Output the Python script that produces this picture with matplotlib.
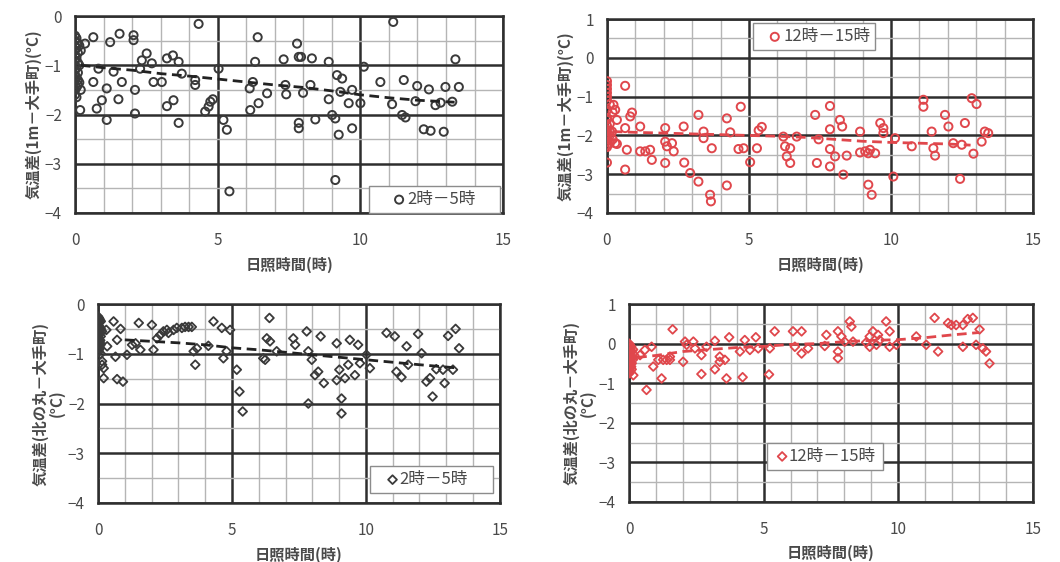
import matplotlib
matplotlib.use("Agg")
import matplotlib.pyplot as plt
from matplotlib.ticker import MultipleLocator

plt.rcParams['font.family'] = ['Noto Sans CJK JP', 'DejaVu Sans']

# ---- data ----
# top-left: 2時-5時, 1m - 大手町
a_x = [0.0, 0.0, 0.0, 0.0, 0.0, 0.0, 0.0, 0.0, 0.0, 0.0, 0.0, 0.0, 0.05, 0.05, 0.05, 0.05, 0.05, 0.05, 0.05,
       0.1, 0.1, 0.1, 0.1, 0.1, 0.1, 0.15, 0.15, 0.15, 0.2, 0.2,
       0.18, 0.35, 0.64, 0.64, 0.76, 0.82, 0.94, 1.11, 1.11, 1.23, 1.35, 1.52, 1.56, 1.64,
       2.05, 2.05, 2.1, 2.1, 2.28, 2.34, 2.51, 2.69, 2.75, 3.04, 3.22, 3.22, 3.43, 3.45,
       3.63, 3.63, 3.74, 4.21, 4.21, 4.33, 4.56, 4.68, 4.74, 4.83, 5.03, 5.2, 5.32, 5.41,
       6.12, 6.14, 6.23, 6.31, 6.43, 6.4, 6.73, 7.31, 7.37, 7.4, 7.78, 7.84, 7.84, 7.84,
       7.92, 7.99, 8.25, 8.3, 8.42, 8.89, 8.89, 9.01, 9.12, 9.12, 9.18, 9.24, 9.36, 9.3,
       9.59, 9.71, 9.71, 10.0, 10.12, 10.7, 11.11, 11.15, 11.52, 11.46, 11.58, 11.93, 11.99,
       12.22, 12.4, 12.46, 12.63, 12.81, 12.92, 12.98, 13.22, 13.33, 13.45]
a_y = [-0.4, -0.5, -0.6, -0.7, -0.8, -0.9, -1.0, -1.1, -1.2, -1.3, -1.5, -1.6,
       -0.45, -0.65, -0.85, -1.05, -1.25, -1.45, -1.65,
       -0.55, -0.75, -0.95, -1.15, -1.3, -1.4, -0.6, -1.0, -1.35, -0.7, -1.5,
       -1.91, -0.56, -0.43, -1.34, -1.88, -1.07, -1.71, -1.47, -2.11, -0.53, -1.13, -1.69, -0.36, -1.34,
       -0.39, -0.49, -1.5, -1.98, -1.07, -0.9, -0.76, -0.96, -1.34, -1.34, -0.86, -1.83, -0.8, -1.71,
       -0.93, -2.17, -1.17, -1.3, -1.4, -0.16, -1.94, -1.84, -1.74, -1.69, -1.07, -2.11, -2.31, -3.56,
       -1.47, -1.91, -1.34, -0.93, -1.77, -0.43, -1.57, -0.88, -1.4, -1.59, -0.56, -0.83, -2.17, -2.28,
       -0.83, -1.56, -1.4, -0.86, -2.1, -0.93, -1.69, -2.01, -2.08, -3.33, -1.2, -2.41, -1.27, -1.54,
       -1.77, -1.5, -2.28, -1.77, -1.03, -1.34, -1.79, -0.12, -1.3, -2.01, -2.06, -1.73, -1.42,
       -2.3, -1.49, -2.33, -1.81, -1.76, -2.35, -1.44, -1.74, -0.88, -1.44]
a_trend_x = [0.2, 1, 2, 3, 4, 5, 6, 7, 8, 9, 10, 11, 12, 13.3]
a_trend_y = [-1.0, -1.05, -1.1, -1.17, -1.22, -1.28, -1.34, -1.4, -1.45, -1.52, -1.6, -1.66, -1.71, -1.75]

# top-right: 12時-15時, 1m - 大手町
b_x = [0.0, 0.0, 0.0, 0.0, 0.0, 0.0, 0.0, 0.0, 0.0, 0.0, 0.0, 0.0, 0.0, 0.0, 0.0, 0.0, 0.0, 0.0,
       0.1, 0.1, 0.1, 0.1, 0.1, 0.2, 0.2,
       0.64, 0.23, 0.29, 0.35, 0.18, 0.29, 0.35, 0.64, 0.7, 0.64, 0.82, 0.88, 1.17, 1.17,
       1.35, 1.52, 1.58, 2.05, 2.05, 2.05, 2.11, 2.29, 2.35, 2.7, 2.72, 2.93, 3.22, 3.22,
       3.4, 3.4, 3.69, 3.63, 3.66, 4.22, 4.22, 4.34, 4.63, 4.71, 4.81, 5.04, 5.28, 5.34,
       5.45, 6.21, 6.27, 6.33, 6.45, 6.45, 6.68, 7.33, 7.39, 7.45, 7.85, 7.85, 7.85, 7.85,
       8.2, 8.28, 8.03, 8.32, 8.44, 8.91, 8.91, 9.09, 9.2, 9.26, 9.2, 9.32, 9.44, 9.62,
       9.73, 9.73, 10.08, 10.14, 10.73, 11.14, 11.14, 11.43, 11.49, 11.55, 11.9, 12.02,
       12.19, 12.43, 12.49, 12.6, 12.84, 12.9, 13.01, 13.19, 13.3, 13.42]
b_y = [-0.6, -0.7, -0.8, -0.9, -1.0, -1.1, -1.35, -1.55, -1.6, -1.75, -1.85, -1.95, -2.05, -2.1, -2.15, -2.25, -2.3, -2.7,
       -1.2, -1.7, -1.9, -2.0, -2.2, -1.4, -2.1,
       -0.72, -1.21, -1.34, -1.6, -1.9, -2.2, -2.22, -1.81, -2.37, -2.88, -1.51, -1.41, -1.77, -2.41,
       -2.41, -2.37, -2.63, -2.71, -1.81, -2.16, -2.28, -2.2, -2.41, -1.77, -2.7, -2.97, -1.47, -3.19,
       -1.9, -2.07, -2.33, -3.53, -3.7, -1.56, -3.29, -1.92, -2.35, -1.26, -2.33, -2.69, -2.33, -1.87,
       -1.78, -2.03, -2.28, -2.54, -2.33, -2.71, -2.03, -1.47, -2.71, -2.1, -1.24, -1.84, -2.35, -2.8,
       -1.6, -1.77, -2.54, -3.01, -2.52, -1.9, -2.44, -2.41, -2.46, -2.37, -3.27, -3.53, -2.46, -1.68,
       -1.81, -1.94, -3.06, -2.07, -2.28, -1.08, -1.26, -1.9, -2.33, -2.52, -1.47, -1.77,
       -2.2, -3.12, -2.24, -1.68, -1.04, -2.47, -1.19, -2.16, -1.9, -1.94]
b_trend_x = [0.2, 1, 2, 3, 4, 5, 6, 7, 8, 9, 10, 11, 12, 12.8]
b_trend_y = [-1.9, -1.92, -1.94, -1.96, -1.98, -2.0, -2.02, -2.05, -2.1, -2.15, -2.18, -2.2, -2.22, -2.25]

# bottom-left: 2時-5時, 北の丸 - 大手町
c_x = [0.0, 0.0, 0.0, 0.0, 0.0, 0.0, 0.0, 0.0, 0.0, 0.0, 0.0, 0.0, 0.0,
       0.03, 0.03, 0.03, 0.03, 0.03, 0.03, 0.03, 0.03,
       0.05, 0.05, 0.05, 0.05, 0.05, 0.08, 0.08, 0.08, 0.08,
       0.1, 0.1, 0.1, 0.1, 0.1, 0.15, 0.15,
       0.15, 0.21, 0.21, 0.34, 0.31, 0.58, 0.65, 0.71, 0.71, 0.84, 0.93, 1.08, 1.27, 1.4,
       1.52, 1.58, 2.01, 2.07, 2.2, 2.32, 2.44, 2.57, 2.63, 2.82, 2.94, 3.13, 3.25, 3.38,
       3.5, 3.57, 3.63, 3.69, 4.12, 4.31, 4.62, 4.68, 4.93, 4.8, 5.18, 5.28, 5.4, 6.17,
       6.24, 6.3, 6.42, 6.4, 6.67, 7.29, 7.36, 7.79, 7.85, 7.85, 7.98, 8.1, 8.22, 8.31,
       8.43, 8.91, 8.91, 9.01, 9.09, 9.09, 9.22, 9.34, 9.4, 9.59, 9.71, 9.78, 10.02, 10.15,
       10.77, 11.08, 11.14, 11.33, 11.52, 11.58, 11.95, 12.08, 12.26, 12.39, 12.49, 12.63,
       12.88, 12.94, 13.07, 13.25, 13.35, 13.48]
c_y = [-0.25, -0.3, -0.35, -0.4, -0.45, -0.5, -0.55, -0.6, -0.65, -0.7, -0.75, -0.8, -0.85,
       -0.28, -0.38, -0.48, -0.58, -0.68, -0.78, -0.88, -0.95,
       -0.3, -0.45, -0.6, -0.75, -0.9, -0.33, -0.53, -0.73, -0.83,
       -0.35, -0.5, -0.65, -0.8, -1.0, -0.55, -1.15,
       -1.22, -1.29, -1.49, -0.85, -0.52, -0.35, -1.06, -0.72, -1.51, -0.5, -1.56, -1.02, -0.82, -0.79,
       -0.38, -0.92, -0.42, -0.92, -0.69, -0.62, -0.55, -0.52, -0.58, -0.52, -0.48, -0.48, -0.46, -0.46,
       -0.46, -0.95, -1.22, -0.89, -0.84, -0.35, -0.48, -1.09, -0.52, -0.95, -1.32, -1.76, -2.16, -1.09,
       -1.12, -0.69, -0.75, -0.28, -0.95, -0.69, -0.82, -0.55, -0.95, -2.0, -1.12, -1.43, -1.36, -0.65,
       -1.59, -0.79, -1.53, -1.32, -1.9, -2.2, -1.49, -1.22, -0.72, -1.43, -0.82, -1.19, -1.02, -1.29,
       -0.58, -0.65, -1.36, -1.47, -0.85, -1.22, -0.6, -0.99, -1.56, -1.49, -1.86, -1.31,
       -1.32, -1.59, -0.64, -1.32, -0.5, -0.89]
c_trend_x = [1.0, 2, 3, 4, 5, 6, 7, 8, 9, 10, 11, 12, 13.3]
c_trend_y = [-0.72, -0.75, -0.78, -0.82, -0.88, -0.92, -0.97, -1.02, -1.07, -1.12, -1.17, -1.22, -1.28]

# bottom-right: 12時-15時, 北の丸 - 大手町
d_x = [0.0, 0.0, 0.0, 0.0, 0.0, 0.0, 0.0, 0.0, 0.0, 0.0, 0.0, 0.0, 0.0, 0.0, 0.0, 0.0,
       0.03, 0.03, 0.03, 0.03, 0.03, 0.03, 0.03, 0.03,
       0.05, 0.05, 0.05, 0.05, 0.05, 0.08, 0.08, 0.08, 0.08, 0.08,
       0.1, 0.1, 0.1, 0.1, 0.15, 0.15, 0.2,
       0.16, 0.41, 0.59, 0.65, 0.84, 0.9, 1.09, 1.21, 1.27, 1.4, 1.52, 1.62, 1.52, 2.01,
       2.08, 2.14, 2.39, 2.45, 2.69, 2.69, 2.88, 3.19, 3.19, 3.37, 3.37, 3.56, 3.62, 3.72,
       4.12, 4.22, 4.3, 4.49, 4.71, 4.8, 5.2, 5.23, 5.41, 6.09, 6.16, 6.41, 6.41, 6.65,
       7.27, 7.33, 7.76, 7.76, 7.76, 7.89, 8.2, 8.26, 8.01, 8.32, 8.81, 8.94, 9.06, 8.94,
       9.19, 9.25, 9.31, 9.55, 9.68, 9.68, 9.93, 10.67, 11.04, 11.35, 11.48, 11.85, 11.97,
       12.15, 12.4, 12.4, 12.58, 12.77, 12.89, 13.02, 13.14, 13.26, 13.39]
d_y = [0.0, -0.05, -0.1, -0.15, -0.2, -0.25, -0.3, -0.35, -0.4, -0.45, -0.5, -0.55, -0.6, -0.65, -0.7, -0.75,
       -0.03, -0.13, -0.23, -0.33, -0.43, -0.53, -0.63, -0.73,
       -0.1, -0.3, -0.45, -0.6, -0.7, -0.08, -0.18, -0.38, -0.48, -0.58,
       -0.2, -0.35, -0.5, -0.65, -0.15, -0.4, -0.3,
       -0.8, -0.29, -0.16, -1.17, -0.08, -0.58, -0.41, -0.88, -0.41, -0.41, -0.41, 0.36, -0.33, -0.46,
       0.05, -0.03, 0.05, -0.12, -0.29, -0.77, -0.08, 0.07, -0.65, -0.33, -0.46, -0.41, -0.88, 0.16,
       -0.2, -0.85, 0.09, -0.16, 0.16, -0.12, -0.78, -0.12, 0.31, 0.31, -0.08, 0.31, -0.25, -0.12,
       -0.06, 0.22, 0.31, -0.2, -0.37, 0.18, 0.56, 0.43, 0.05, 0.05, 0.03, 0.18, 0.31, -0.08,
       -0.03, 0.22, 0.09, 0.56, 0.31, -0.08, -0.03, 0.18, -0.03, 0.65, -0.2, 0.52, 0.47,
       0.47, 0.47, -0.08, 0.62, 0.65, -0.03, 0.36, -0.12, -0.2, -0.5]
d_trend_x = [0.3, 1, 2, 3, 4, 5, 6, 7, 8, 9, 10, 11, 12, 13.0]
d_trend_y = [-0.35, -0.3, -0.2, -0.15, -0.1, -0.07, -0.02, 0.0, 0.05, 0.08, 0.1, 0.15, 0.22, 0.28]

ylabel_top = '気温差(1m－大手町)(°C)'
ylabel_bottom = '気温差(北の丸－大手町)\n(°C)'
xlabel = '日照時間(時)'

BLACK = '#3a3a3a'
RED = '#e0474c'
TXT = '#4a4a4a'


def style_axes(ax, ymin, ymax):
    ax.set_xlim(0, 15)
    ax.set_ylim(ymin, ymax)
    ax.xaxis.set_major_locator(MultipleLocator(5))
    ax.xaxis.set_minor_locator(MultipleLocator(1))
    ax.yaxis.set_major_locator(MultipleLocator(1))
    ax.yaxis.set_minor_locator(MultipleLocator(0.5))
    ax.grid(which='minor', color='#b5b5b5', linewidth=1.0)
    ax.grid(which='major', color='#2e2e2e', linewidth=1.8)
    ax.set_axisbelow(True)
    ax.tick_params(which='both', length=0, labelsize=11, labelcolor=TXT)
    ax.tick_params(axis='x', pad=14)
    ax.tick_params(axis='y', pad=9.5)
    for s in ax.spines.values():
        s.set_color('#2e2e2e')
        s.set_linewidth(1.8)
    ax.set_xlabel(xlabel, fontsize=11, color=TXT, fontweight='bold', labelpad=5)


def add_legend(ax, bbox, loc, hl, htp):
    ax.legend(loc=loc, bbox_to_anchor=bbox, mode='expand', borderaxespad=0,
              fancybox=False, edgecolor='#8c8c8c', fontsize=12, borderpad=0.3,
              handlelength=hl, handletextpad=htp, labelcolor=TXT, framealpha=1)


fig = plt.figure(figsize=(10.6, 5.62), dpi=100)
ax1 = fig.add_axes([0.0708, 0.621, 0.4038, 0.3505])
ax2 = fig.add_axes([0.5726, 0.621, 0.402, 0.345])
ax3 = fig.add_axes([0.0925, 0.105, 0.379, 0.354])
ax4 = fig.add_axes([0.5934, 0.107, 0.381, 0.352])

# top-left
style_axes(ax1, -4, 0)
ax1.scatter(a_x, a_y, s=34, facecolors='none', edgecolors=BLACK, linewidths=1.4,
            label='2時－5時', zorder=3)
ax1.plot(a_trend_x, a_trend_y, color='#222222', linewidth=2, dashes=(3.5, 2), zorder=4)
ax1.set_ylabel(ylabel_top, fontsize=11, color=TXT, fontweight='bold', labelpad=2)
add_legend(ax1, (0.687, 0.0, 0.306, 0.2), 'lower left', 3.0, -1.0)

# top-right
style_axes(ax2, -4, 1)
ax2.scatter(b_x, b_y, s=34, facecolors='none', edgecolors=RED, linewidths=1.4,
            label='12時－15時', zorder=3)
ax2.plot(b_trend_x, b_trend_y, color=RED, linewidth=2, dashes=(3.5, 2), zorder=4)
ax2.set_ylabel(ylabel_top, fontsize=11, color=TXT, fontweight='bold', labelpad=2)
add_legend(ax2, (0.343, 0.679, 0.286, 0.3), 'upper left', 2.0, -0.5)

# bottom-left
style_axes(ax3, -4, 0)
ax3.scatter(c_x, c_y, s=20, marker='D', facecolors='none', edgecolors=BLACK, linewidths=1.3,
            label='2時－5時', zorder=3)
ax3.plot(c_trend_x, c_trend_y, color='#222222', linewidth=2, dashes=(3.5, 2), zorder=4)
ax3.set_ylabel(ylabel_bottom, fontsize=11, color=TXT, fontweight='bold', labelpad=2,
               linespacing=1.0)
add_legend(ax3, (0.677, 0.05, 0.306, 0.2), 'lower left', 2.1, -0.65)

# bottom-right
style_axes(ax4, -4, 1)
ax4.scatter(d_x, d_y, s=20, marker='D', facecolors='none', edgecolors=RED, linewidths=1.3,
            label='12時－15時', zorder=3)
ax4.plot(d_trend_x, d_trend_y, color=RED, linewidth=2, dashes=(3.5, 2), zorder=4)
ax4.set_ylabel(ylabel_bottom, fontsize=11, color=TXT, fontweight='bold', labelpad=2,
               linespacing=1.0)
add_legend(ax4, (0.342, 0.162, 0.287, 0.151), 'lower left', 1.2, -0.2)

fig.savefig('out.png', dpi=100)
